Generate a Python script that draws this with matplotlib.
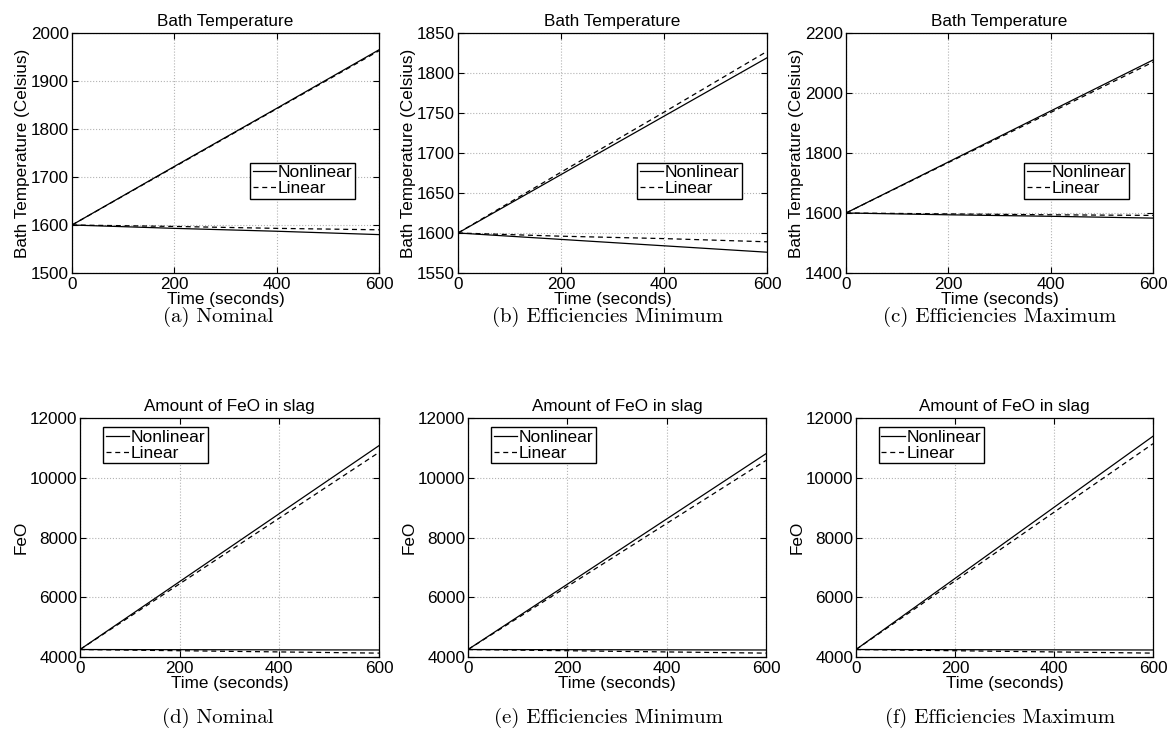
import matplotlib
matplotlib.use("Agg")
from matplotlib import pyplot as plt

plt.rcParams['font.family'] = ['Liberation Sans', 'DejaVu Sans']

t = [0, 200, 400, 600]

# bath temperature, upper and lower runs for each case
a_hi_nl = [1600, 1722, 1843, 1965]
a_hi_lin = [1600, 1721, 1842, 1963]
a_lo_nl = [1600, 1593, 1587, 1580]
a_lo_lin = [1600, 1597, 1593, 1590]

b_hi_nl = [1600, 1673, 1746, 1819]
b_hi_lin = [1600, 1676, 1751, 1827]
b_lo_nl = [1600, 1592, 1584, 1576]
b_lo_lin = [1600, 1596, 1593, 1589]

c_hi_nl = [1600, 1770, 1940, 2110]
c_hi_lin = [1600, 1768, 1935, 2103]
c_lo_nl = [1600, 1594, 1589, 1583]
c_lo_lin = [1600, 1597, 1594, 1592]

# FeO in slag
d_hi_nl = [4250, 6525, 8800, 11075]
d_hi_lin = [4250, 6450, 8650, 10850]
d_lo_nl = [4250, 4245, 4240, 4235]
d_lo_lin = [4250, 4210, 4170, 4130]

e_hi_nl = [4250, 6435, 8620, 10805]
e_hi_lin = [4250, 6360, 8470, 10580]
e_lo_nl = [4250, 4245, 4240, 4235]
e_lo_lin = [4250, 4210, 4170, 4130]

f_hi_nl = [4250, 6630, 9010, 11390]
f_hi_lin = [4250, 6545, 8845, 11140]
f_lo_nl = [4250, 4245, 4240, 4235]
f_lo_lin = [4250, 4210, 4170, 4130]

captions = ["(a) Nominal", "(b) Efficiencies Minimum", "(c) Efficiencies Maximum",
            "(d) Nominal", "(e) Efficiencies Minimum", "(f) Efficiencies Maximum"]

W, H = 1171, 742
fig = plt.figure(figsize=(W / 100, H / 100), dpi=100)


def box(l, r, top, bot):
    return [l / W, (H - bot) / H, (r - l) / W, (bot - top) / H]


def panel(rect, hi_nl, hi_lin, lo_nl, lo_lin, ylim, yticks, title, ylabel, leg_xy):
    ax = fig.add_axes(rect)
    ax.plot(t, hi_nl, color='black', lw=0.9, label='Nonlinear')
    ax.plot(t, hi_lin, color='black', lw=0.9, dashes=(4, 3), label='Linear')
    ax.plot(t, lo_nl, color='black', lw=0.9)
    ax.plot(t, lo_lin, color='black', lw=0.9, dashes=(4, 3))
    ax.set_xlim(0, 600)
    ax.set_ylim(*ylim)
    ax.set_xticks([0, 200, 400, 600])
    ax.set_yticks(yticks)
    ax.grid(True, linestyle=':', color='#b3b3b3', lw=0.8)
    ax.tick_params(direction='in', top=True, right=True, labelsize=12.3, length=4, pad=2)
    ax.tick_params(axis='x', pad=3)
    for s in ax.spines.values():
        s.set_linewidth(0.9)
    ax.set_title(title, fontsize=12.3, pad=5)
    ax.set_xlabel('Time (seconds)', fontsize=12.3, labelpad=0)
    ax.set_ylabel(ylabel, fontsize=12.3, labelpad=1)
    leg = ax.legend(loc='upper left', bbox_to_anchor=leg_xy, fontsize=12.5,
                    fancybox=False, edgecolor='black', framealpha=1,
                    handlelength=1.35, handletextpad=0.1, borderpad=0.15,
                    labelspacing=0.05, borderaxespad=0)
    leg.get_frame().set_linewidth(1.0)
    return ax


panel(box(72, 379, 33, 273), a_hi_nl, a_hi_lin, a_lo_nl, a_lo_lin, (1500, 2000),
      range(1500, 2001, 100), 'Bath Temperature', 'Bath Temperature (Celsius)', (0.58, 0.46))
panel(box(458, 767, 33, 273), b_hi_nl, b_hi_lin, b_lo_nl, b_lo_lin, (1550, 1850),
      range(1550, 1851, 50), 'Bath Temperature', 'Bath Temperature (Celsius)', (0.58, 0.46))
panel(box(846, 1153, 33, 273), c_hi_nl, c_hi_lin, c_lo_nl, c_lo_lin, (1400, 2200),
      range(1400, 2201, 200), 'Bath Temperature', 'Bath Temperature (Celsius)', (0.58, 0.46))
panel(box(80, 379, 418, 657), d_hi_nl, d_hi_lin, d_lo_nl, d_lo_lin, (4000, 12000),
      range(4000, 12001, 2000), 'Amount of FeO in slag', 'FeO', (0.077, 0.962))
panel(box(468, 766, 418, 657), e_hi_nl, e_hi_lin, e_lo_nl, e_lo_lin, (4000, 12000),
      range(4000, 12001, 2000), 'Amount of FeO in slag', 'FeO', (0.077, 0.962))
panel(box(856, 1153, 418, 657), f_hi_nl, f_hi_lin, f_lo_nl, f_lo_lin, (4000, 12000),
      range(4000, 12001, 2000), 'Amount of FeO in slag', 'FeO', (0.077, 0.962))

# sub-figure captions in a serif face
cap_x = [218, 608, 1000, 218, 608, 1000]
cap_y = [317, 317, 317, 718, 718, 718]
for cx, cy, txt in zip(cap_x, cap_y, captions):
    fig.text(cx / W, 1 - cy / H, txt, ha='center', va='center',
             fontsize=15, family=['cmr10', 'DejaVu Serif'])

fig.savefig('out.png', dpi=100)
